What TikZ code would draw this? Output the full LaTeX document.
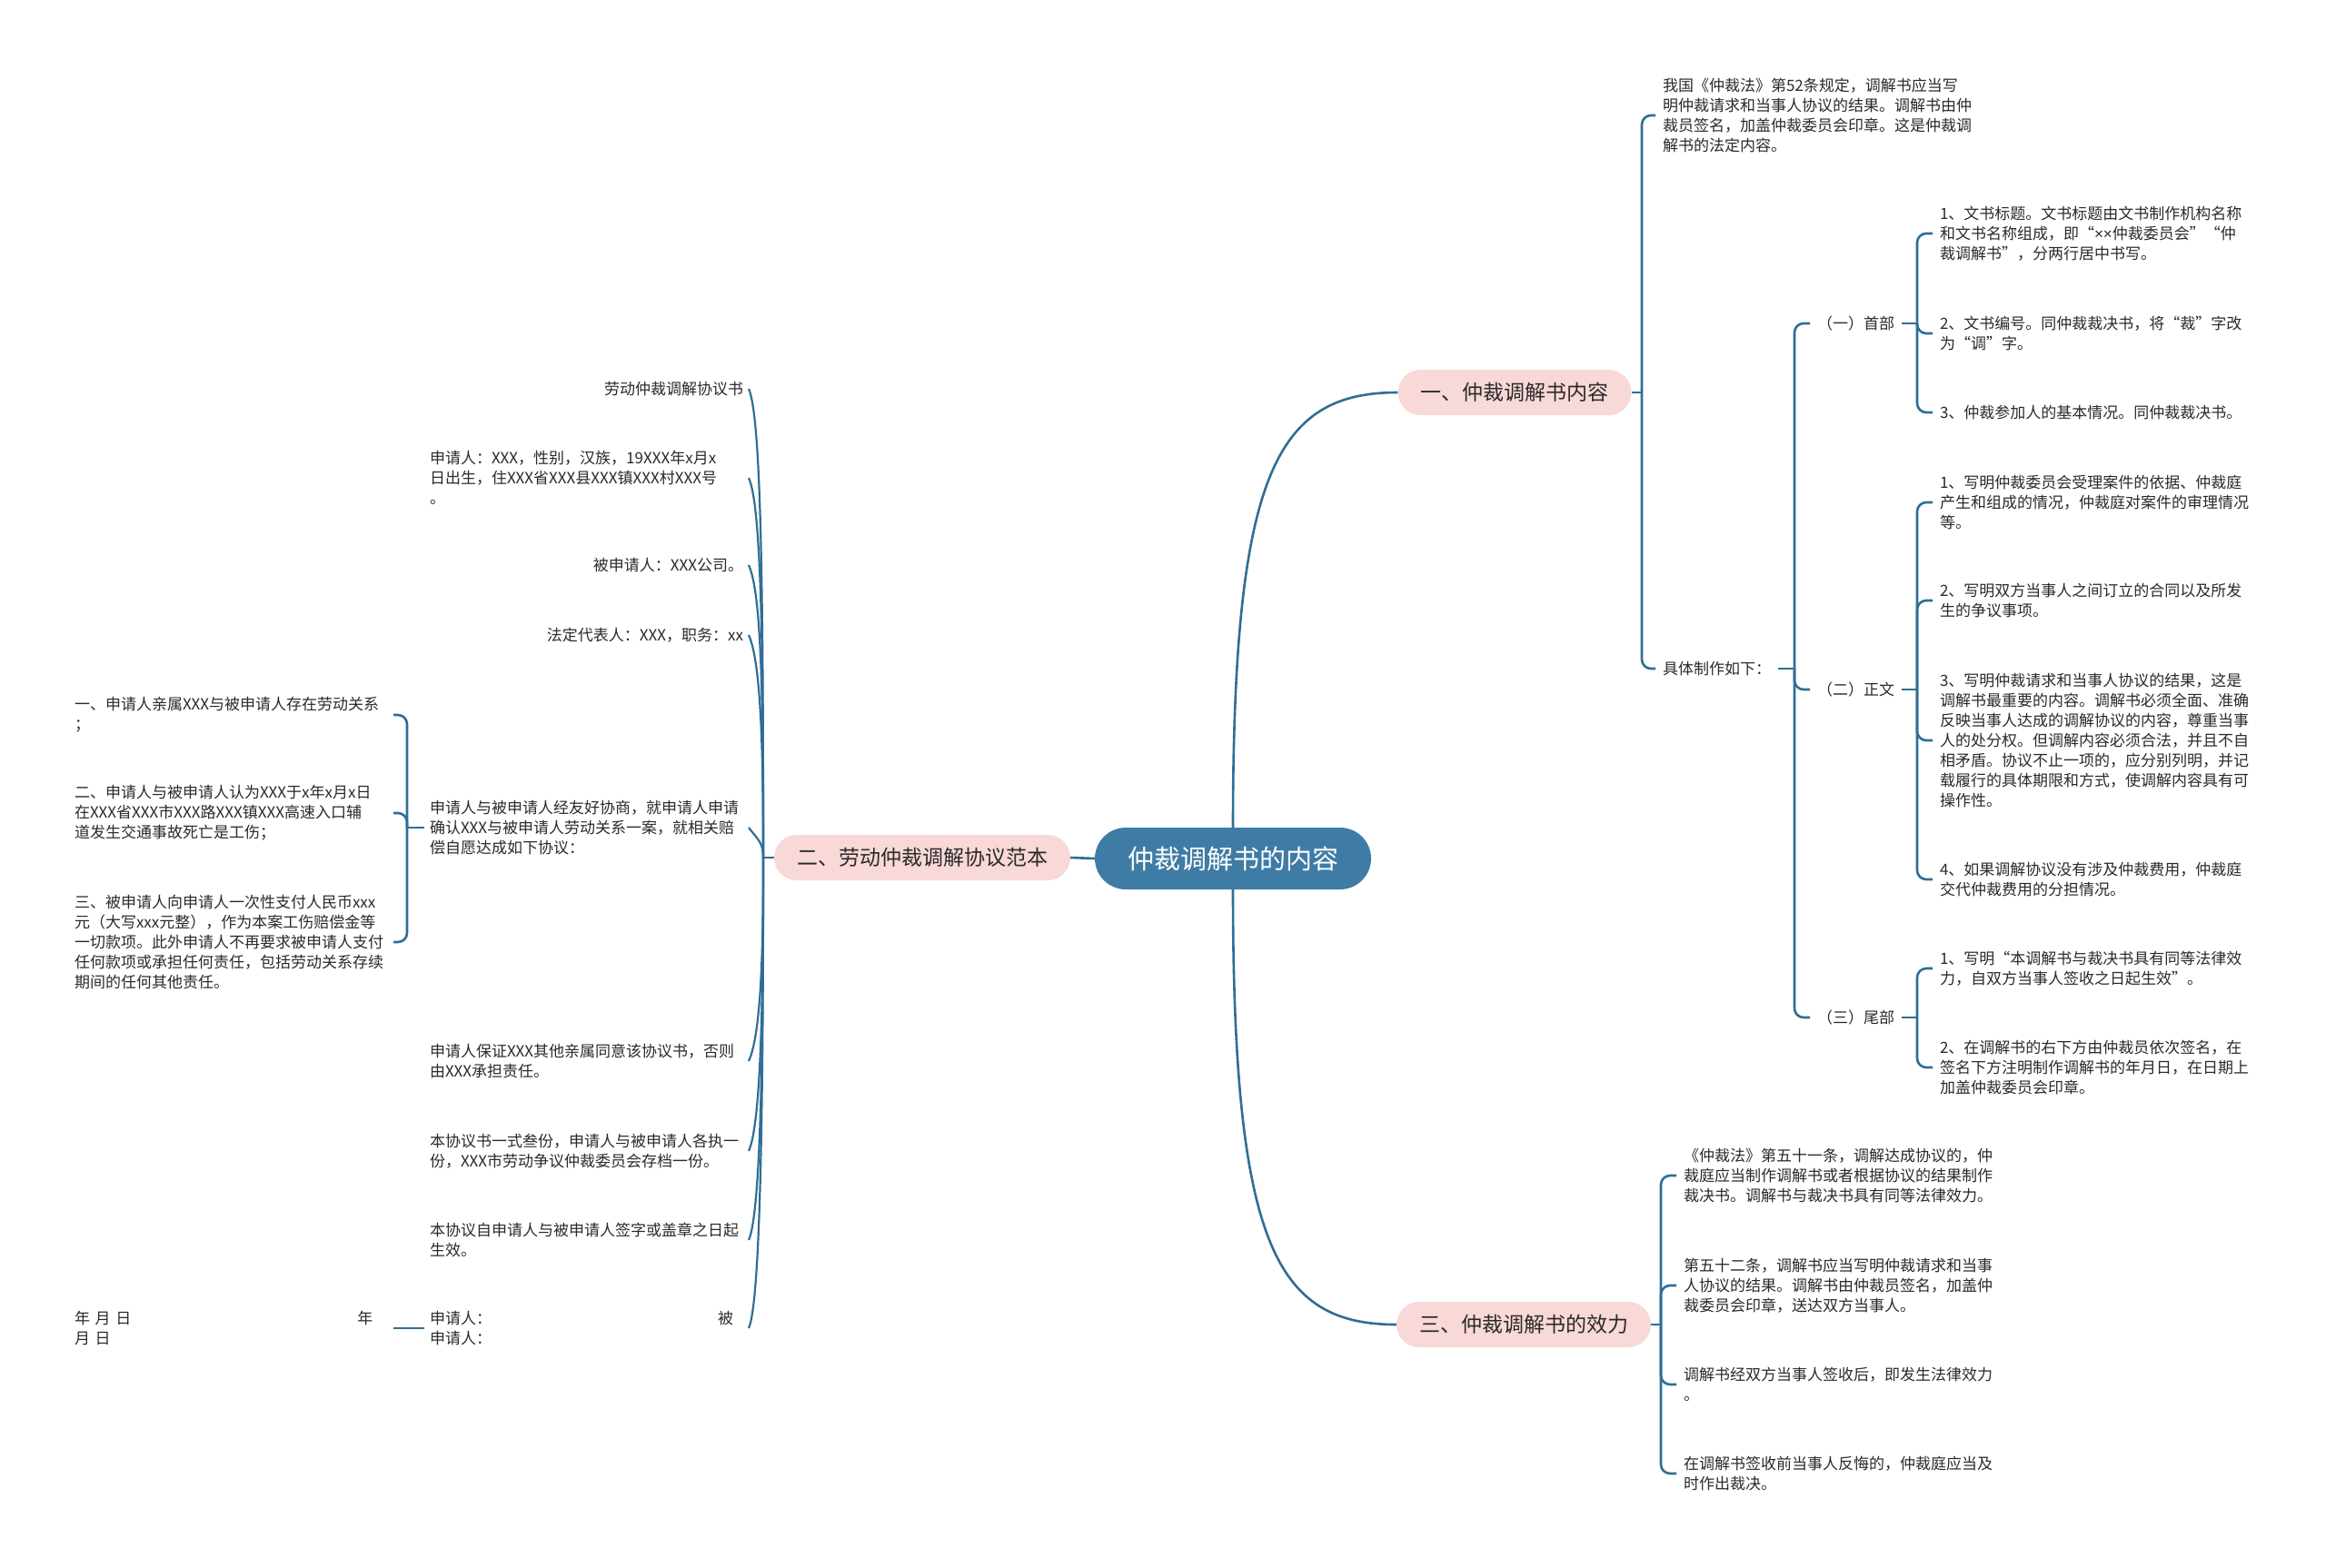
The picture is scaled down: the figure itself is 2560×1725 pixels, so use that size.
\documentclass[tikz,border=0pt]{standalone}
\usepackage{fontspec}
\setmainfont{Noto Sans CJK SC}
\newfontfamily\latinfam{Liberation Sans}
\definecolor{linec}{HTML}{2F6E96}
\definecolor{rootc}{HTML}{3F7CA5}
\definecolor{pinkc}{HTML}{F9D8D8}
\definecolor{txt}{HTML}{2A2A2A}
\tikzset{
  conn/.style={draw=linec, line width=2.6pt},
  bconn/.style={conn, rounded corners=10pt},
  leaf/.style={inner ysep=0pt, outer sep=0pt, align=left, font=\fontsize{17}{22}\selectfont, text=txt},
  rleaf/.style={leaf, inner xsep=8pt, anchor=west},
  lleaf/.style={leaf, inner xsep=6pt, anchor=east},
  lleafw/.style={lleaf, text width=345pt},
  branch/.style={fill=pinkc, rounded corners=25pt, minimum height=50pt, inner xsep=25pt, inner ysep=0pt, font=\fontsize{23}{28}\selectfont, text=txt},
  rootnode/.style={fill=rootc, rounded corners=34pt, minimum height=68pt, inner xsep=36pt, inner ysep=0pt, font=\fontsize{29}{34}\selectfont, text=white}
}
\begin{document}
\begin{tikzpicture}[x=1pt,y=-1pt]
\fill[white] (0,0) rectangle (2560,1725);
\useasboundingbox (0,0) rectangle (2560,1725);

% bracket x positions
\coordinate (b1) at (1807,0);
\coordinate (b2) at (1975,0);
\coordinate (b3) at (2110,0);
\coordinate (b4) at (1828,0);
\coordinate (b5) at (448,0);
\coordinate (hub) at (840,944);

% main nodes
\node[rootnode] (root) at (1357,945) {仲裁调解书的内容};
\node[branch] (n1) at (1667,432) {一、仲裁调解书内容};
\node[branch] (n2) at (1015,944) {二、劳动仲裁调解协议范本};
\node[branch] (n3) at (1677,1458) {三、仲裁调解书的效力};

% branch one
\node[rleaf] (ra) at (1822,127) {我国《仲裁法》第52条规定，调解书应当写\\明仲裁请求和当事人协议的结果。调解书由仲\\裁员签名，加盖仲裁委员会印章。这是仲裁调\\解书的法定内容。};
\node[rleaf] (rb) at (1822,736) {具体制作如下：};
\node[rleaf] (s1) at (1992,356) {（一）首部};
\node[rleaf] (s2) at (1992,759) {（二）正文};
\node[rleaf] (s3) at (1992,1120) {（三）尾部};

\node[rleaf] (s1a) at (2127,257) {1、文书标题。文书标题由文书制作机构名称\\和文书名称组成，即“{\latinfam ××}仲裁委员会”“仲\\裁调解书”，分两行居中书写。};
\node[rleaf] (s1b) at (2127,367) {2、文书编号。同仲裁裁决书，将“裁”字改\\为“调”字。};
\node[rleaf] (s1c) at (2127,454) {3、仲裁参加人的基本情况。同仲裁裁决书。};

\node[rleaf] (s2a) at (2127,553) {1、写明仲裁委员会受理案件的依据、仲裁庭\\产生和组成的情况，仲裁庭对案件的审理情况\\等。};
\node[rleaf] (s2b) at (2127,661) {2、写明双方当事人之间订立的合同以及所发\\生的争议事项。};
\node[rleaf] (s2c) at (2127,815) {3、写明仲裁请求和当事人协议的结果，这是\\调解书最重要的内容。调解书必须全面、准确\\反映当事人达成的调解协议的内容，尊重当事\\人的处分权。但调解内容必须合法，并且不自\\相矛盾。协议不止一项的，应分别列明，并记\\载履行的具体期限和方式，使调解内容具有可\\操作性。};
\node[rleaf] (s2d) at (2127,968) {4、如果调解协议没有涉及仲裁费用，仲裁庭\\交代仲裁费用的分担情况。};

\node[rleaf] (s3a) at (2127,1066) {1、写明“本调解书与裁决书具有同等法律效\\力，自双方当事人签收之日起生效”。};
\node[rleaf] (s3b) at (2127,1175) {2、在调解书的右下方由仲裁员依次签名，在\\签名下方注明制作调解书的年月日，在日期上\\加盖仲裁委员会印章。};

% branch three
\node[rleaf] (t1) at (1845,1294) {《仲裁法》第五十一条，调解达成协议的，仲\\裁庭应当制作调解书或者根据协议的结果制作\\裁决书。调解书与裁决书具有同等法律效力。};
\node[rleaf] (t2) at (1845,1415) {第五十二条，调解书应当写明仲裁请求和当事\\人协议的结果。调解书由仲裁员签名，加盖仲\\裁委员会印章，送达双方当事人。};
\node[rleaf] (t3) at (1845,1524) {调解书经双方当事人签收后，即发生法律效力\\。};
\node[rleaf] (t4) at (1845,1622) {在调解书签收前当事人反悔的，仲裁庭应当及\\时作出裁决。};

% branch two (left)
\node[lleaf] (l1) at (824,428) {劳动仲裁调解协议书};
\node[lleafw] (l2) at (824,526) {申请人：XXX，性别，汉族，19XXX年x月x\\日出生，住XXX省XXX县XXX镇XXX村XXX号\\。};
\node[lleaf] (l3) at (824,622) {被申请人：XXX公司。};
\node[lleaf] (l4) at (824,699) {法定代表人：XXX，职务：xx};
\node[lleafw] (l5) at (824,911) {申请人与被申请人经友好协商，就申请人申请\\确认XXX与被申请人劳动关系一案，就相关赔\\偿自愿达成如下协议：};
\node[lleafw] (l6) at (824,1168) {申请人保证XXX其他亲属同意该协议书，否则\\由XXX承担责任。};
\node[lleafw] (l7) at (824,1267) {本协议书一式叁份，申请人与被申请人各执一\\份，XXX市劳动争议仲裁委员会存档一份。};
\node[lleafw] (l8) at (824,1365) {本协议自申请人与被申请人签字或盖章之日起\\生效。};
\node[lleafw] (l9) at (824,1462) {申请人：\hspace{249pt}被\\申请人：};

\node[lleafw] (k1) at (433,787) {一、申请人亲属XXX与被申请人存在劳动关系\\；};
\node[lleafw] (k2) at (433,895) {二、申请人与被申请人认为XXX于x年x月x日\\在XXX省XXX市XXX路XXX镇XXX高速入口辅\\道发生交通事故死亡是工伤；};
\node[lleafw] (k3) at (433,1037) {三、被申请人向申请人一次性支付人民币xxx\\元（大写xxx元整），作为本案工伤赔偿金等\\一切款项。此外申请人不再要求被申请人支付\\任何款项或承担任何责任，包括劳动关系存续\\期间的任何其他责任。};
\node[lleafw] (k4) at (433,1462) {年 月 日\hspace{249pt}年\\月 日};

% main connectors
\draw[conn] (root.north) .. controls (1357,522) and (1404,432) .. (n1.west);
\draw[conn] (root.south) .. controls (1357,1370) and (1404,1458) .. (n3.west);
\draw[conn] (root.west) -- (n2.east);

% branch one brackets
\draw[conn] (n1.east) -- (n1.east -| b1);
\draw[bconn] (n1.east -| b1) |- (ra.west);
\draw[bconn] (n1.east -| b1) |- (rb.west);
\draw[conn] (rb.east) -- (rb.east -| b2);
\draw[bconn] (rb.east -| b2) |- (s1.west);
\draw[bconn] (rb.east -| b2) |- (s2.west);
\draw[bconn] (rb.east -| b2) |- (s3.west);
\draw[conn] (s1.east) -- (s1.east -| b3);
\draw[bconn] (s1.east -| b3) |- (s1a.west);
\draw[bconn] (s1.east -| b3) |- (s1b.west);
\draw[bconn] (s1.east -| b3) |- (s1c.west);
\draw[conn] (s2.east) -- (s2.east -| b3);
\draw[bconn] (s2.east -| b3) |- (s2a.west);
\draw[bconn] (s2.east -| b3) |- (s2b.west);
\draw[bconn] (s2.east -| b3) |- (s2c.west);
\draw[bconn] (s2.east -| b3) |- (s2d.west);
\draw[conn] (s3.east) -- (s3.east -| b3);
\draw[bconn] (s3.east -| b3) |- (s3a.west);
\draw[bconn] (s3.east -| b3) |- (s3b.west);

% branch three bracket
\draw[conn] (n3.east) -- (n3.east -| b4);
\draw[bconn] (n3.east -| b4) |- (t1.west);
\draw[bconn] (n3.east -| b4) |- (t2.west);
\draw[bconn] (n3.east -| b4) |- (t3.west);
\draw[bconn] (n3.east -| b4) |- (t4.west);

% branch two curves
\draw[conn] (n2.west) -- (hub);
\begin{scope}[conn, line width=2.2pt]
\draw (hub) .. controls (840,660) and (838,458) .. (l1.east);
\draw (hub) .. controls (840,714) and (838,556) .. (l2.east);
\draw (hub) .. controls (840,767) and (838,652) .. (l3.east);
\draw (hub) .. controls (840,834) and (838,729) .. (l4.east);
\draw (hub) .. controls (840,929) and (836,926) .. (l5.east);
\draw (hub) .. controls (840,1043) and (838,1138) .. (l6.east);
\draw (hub) .. controls (840,1089) and (838,1237) .. (l7.east);
\draw (hub) .. controls (840,1133) and (838,1335) .. (l8.east);
\draw (hub) .. controls (840,1177) and (838,1432) .. (l9.east);
\end{scope}

% left sub bracket
\draw[conn] (l5.west) -- (l5.west -| b5);
\draw[bconn] (l5.west -| b5) |- (k1.east);
\draw[bconn] (l5.west -| b5) |- (k2.east);
\draw[bconn] (l5.west -| b5) |- (k3.east);
\draw[conn] (l9.west) -- (k4.east);
\end{tikzpicture}
\end{document}
